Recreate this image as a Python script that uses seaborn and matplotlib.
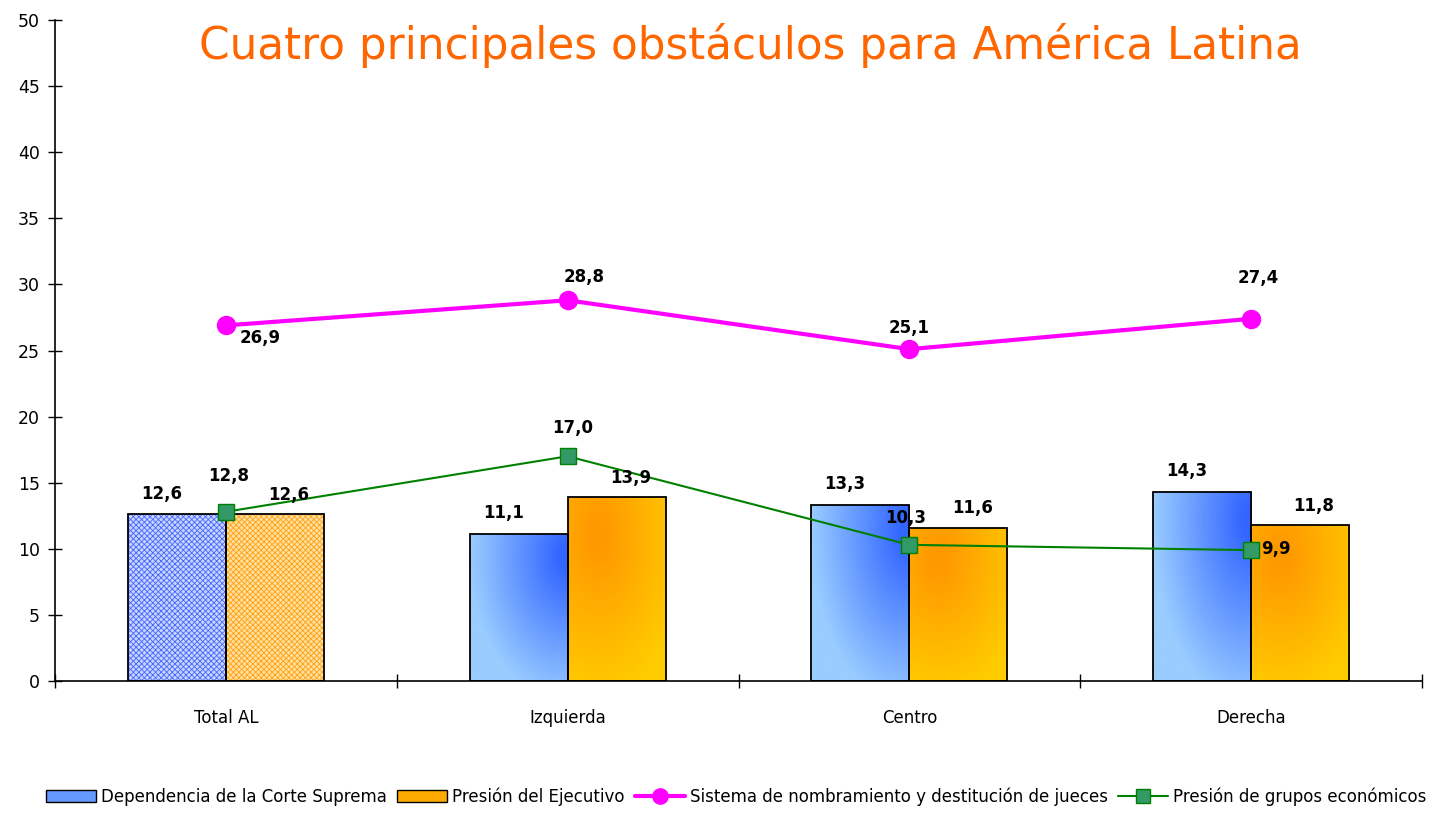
import numpy as np
import pandas as pd
import matplotlib.pyplot as plt
import seaborn as sns
from matplotlib.patches import Patch, Rectangle
from matplotlib.lines import Line2D
from matplotlib.colors import to_rgb


categories = ["Total AL", "Izquierda", "Centro", "Derecha"]
corte = [12.6, 11.1, 13.3, 14.3]
ejecutivo = [12.6, 13.9, 11.6, 11.8]
sistema = [26.9, 28.8, 25.1, 27.4]
grupos = [12.8, 17.0, 10.3, 9.9]
bar_names = ["Dependencia de la Corte Suprema", "Presión del Ejecutivo"]
line_names = ["Sistema de nombramiento y destitución de jueces", "Presión de grupos económicos"]
title = "Cuatro principales obstáculos para América Latina"

df = pd.DataFrame({
    "cat": categories * 2,
    "serie": [bar_names[0]] * 4 + [bar_names[1]] * 4,
    "valor": corte + ejecutivo,
})

sns.set_style("white")
plt.rcParams["font.family"] = ["DejaVu Sans"]
plt.rcParams["text.color"] = "black"
plt.rcParams["xtick.color"] = "black"
plt.rcParams["ytick.color"] = "black"
plt.rcParams["hatch.linewidth"] = 0.6

fig = plt.figure(figsize=(14.52, 8.17), dpi=100)
ax = fig.add_axes([55 / 1452, 1 - 681 / 817, (1422 - 55) / 1452, (681 - 20) / 817])

sns.barplot(data=df, x="cat", y="valor", hue="serie", order=categories,
            hue_order=bar_names, width=0.574, palette=["#6699ff", "#ffaa00"],
            edgecolor="black", linewidth=1.3, legend=False, ax=ax, saturation=1)


def gradient(kind, n=120):
    u, v = np.meshgrid(np.linspace(0, 1, n), np.linspace(0, 1, n))
    if kind == 0:
        light, dark = np.array(to_rgb("#99ccff")), np.array(to_rgb("#3366ff"))
        d = np.sqrt(((1 - u) / 1.0) ** 2 + ((0.85 - v) / 1.0) ** 2)
    else:
        light, dark = np.array(to_rgb("#ffcc00")), np.array(to_rgb("#ff9900"))
        d = np.sqrt(((0.3 - u) / 0.9) ** 2 + ((0.8 - v) / 0.9) ** 2)
    t = np.clip(1.1 - 1.1 * d, 0, 1)[..., None]
    return light * (1 - t) + dark * t


bars = ax.patches
for k, bar in enumerate(bars):
    kind = k // 4
    cat = k % 4
    x0, y0 = bar.get_x(), bar.get_y()
    w, h = bar.get_width(), bar.get_height()
    if cat == 0:
        fill = "#c8d4ff" if kind == 0 else "#ffe0a0"
        hatchc = "#4466ff" if kind == 0 else "#ffa010"
        bar.set_facecolor(fill)
        bar.set_edgecolor(hatchc)
        bar.set_hatch("xxxxxx")
        bar.set_linewidth(0)
        ax.add_patch(Rectangle((x0, y0), w, h, fill=False, edgecolor="black",
                               linewidth=1.3, zorder=2))
    else:
        img = ax.imshow(gradient(kind), extent=[x0, x0 + w, y0, y0 + h],
                        origin="lower", aspect="auto", zorder=1.5)
        img.set_clip_path(bar)
        bar.set_facecolor("none")
        bar.set_zorder(2)

xs = np.arange(len(categories))
ax.plot(xs, sistema, color="#ff00ff", lw=3, marker="o", markersize=13, zorder=3)
ax.plot(xs, grupos, color="#008000", lw=1.5, marker="s", markersize=12,
        markerfacecolor="#339966", markeredgecolor="#008000", zorder=3)


def fmt(v):
    return f"{v:.1f}".replace(".", ",")


lab = dict(fontsize=12, fontweight="bold", ha="center", va="center",
           textcoords="offset points", zorder=5, color="black")
for i in range(4):
    ax.annotate(fmt(corte[i]), (xs[i] - 0.1435, corte[i]), xytext=(-11, 15), **lab)
    ax.annotate(fmt(ejecutivo[i]), (xs[i] + 0.1435, ejecutivo[i]), xytext=(10, 14), **lab)

sis_off = [(25, -9), (12, 17), (0, 15), (5, 29)]
grp_off = [(2, 26), (4, 20), (-3, 19), (18, 1)]
for i in range(4):
    ax.annotate(fmt(sistema[i]), (xs[i], sistema[i]), xytext=sis_off[i], **lab)
    ax.annotate(fmt(grupos[i]), (xs[i], grupos[i]), xytext=grp_off[i], **lab)

ax.set_xlim(-0.5, 3.5)
ax.set_ylim(0, 50)
ax.set_yticks(np.arange(0, 51, 5))
ax.set_xticks(xs)
ax.set_xticklabels(categories, fontsize=12)
ax.set_xticks(np.arange(-0.5, 3.6, 1), minor=True)
ax.tick_params(axis="x", which="major", length=0, pad=20, bottom=True)
ax.tick_params(axis="x", which="minor", length=10, direction="inout", width=1, bottom=True)
ax.tick_params(axis="y", length=10, direction="inout", width=1, labelsize=12.5,
               pad=6, left=True)
ax.set_xlabel("")
ax.set_ylabel("")
for s in ["top", "right"]:
    ax.spines[s].set_visible(False)
for s in ["left", "bottom"]:
    ax.spines[s].set_color("black")
    ax.spines[s].set_linewidth(1.2)

fig.text(0.517, 1 - 45 / 817, title, color="#ff6600", fontsize=31.5,
         ha="center", va="center")

handles = [
    Patch(facecolor="#6699ff", edgecolor="black", label=bar_names[0]),
    Patch(facecolor="#ffaa00", edgecolor="black", label=bar_names[1]),
    Line2D([], [], color="#ff00ff", lw=3, marker="o", markersize=11, label=line_names[0]),
    Line2D([], [], color="#008000", lw=1.5, marker="s", markersize=10,
           markerfacecolor="#339966", markeredgecolor="#008000", label=line_names[1]),
]
fig.legend(handles=handles, loc="lower center", bbox_to_anchor=(0.507, -0.005),
           ncol=4, frameon=False, fontsize=12, handlelength=3.0,
           columnspacing=0.6, handletextpad=0.3, labelcolor="black")

fig.savefig("out.png", dpi=100)
